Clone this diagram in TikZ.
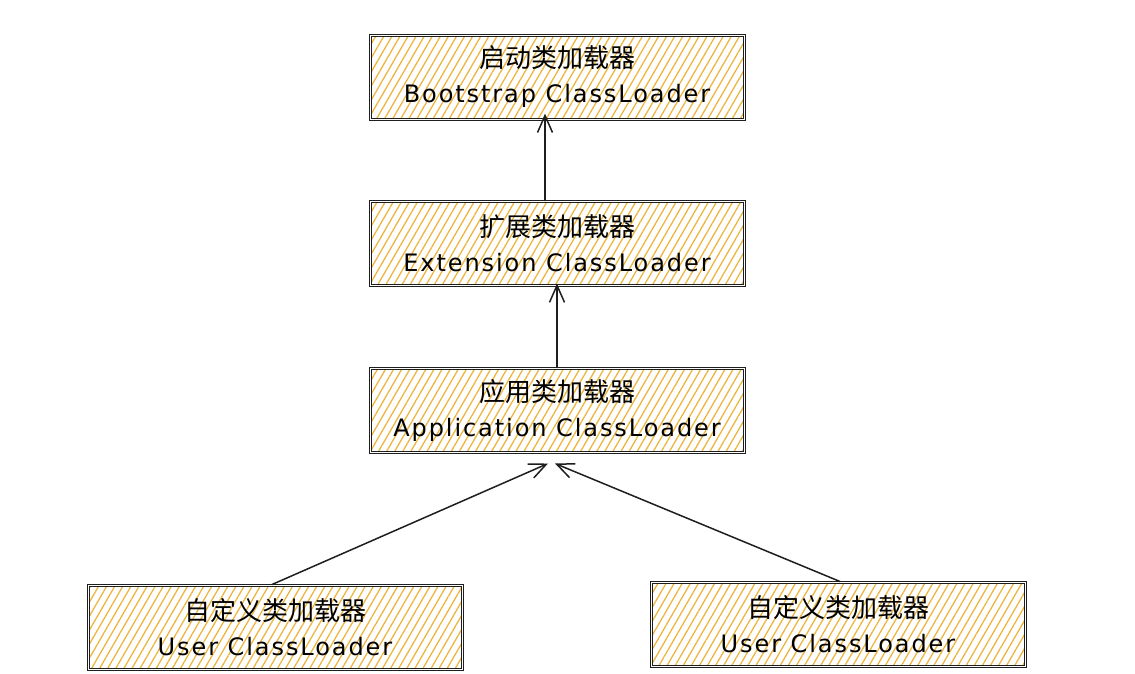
\documentclass[tikz,border=0pt]{standalone}
\usepackage{fontspec}
\setmainfont{DejaVu Sans}
\newfontfamily\cjkfont{Noto Sans CJK SC}
\newfontfamily\handfont[LetterSpace=8]{DejaVu Sans}
\usetikzlibrary{patterns.meta,arrows.meta}
\definecolor{hatch}{RGB}{236,182,62}
\definecolor{ink}{RGB}{30,30,30}
\tikzset{
	loader/.style={draw=ink, line width=1pt, double=white, double distance=1pt,
		pattern={Lines[angle=60,distance=7pt,line width=1.3pt]}, pattern color=hatch,
		minimum width=374pt, minimum height=84pt, inner sep=0pt, align=center,
		font=\fontsize{24}{35}\selectfont},
	parent/.style={draw=ink, line width=1.5pt, line cap=round,
		-{Straight Barb[length=17pt,width=15pt,line width=1.5pt]}},
}
\newcommand{\loaderlabel}[2]{{\cjkfont\fontsize{26}{35}\selectfont #1}\\{\handfont #2}}

\begin{document}
\begin{tikzpicture}[x=1pt,y=-1pt]
		\useasboundingbox (0,0) rectangle (1135,673);
		% loader boxes
		\node[loader] (boot) at (557,77) {\loaderlabel{启动类加载器}{Bootstrap ClassLoader}};
		\node[loader] (ext) at (557,243) {\loaderlabel{扩展类加载器}{Extension ClassLoader}};
		\node[loader] (app) at (557,410) {\loaderlabel{应用类加载器}{Application ClassLoader}};
		\node[loader] (userA) at (275,627) {\loaderlabel{自定义类加载器}{User ClassLoader}};
		\node[loader] (userB) at (838,624) {\loaderlabel{自定义类加载器}{User ClassLoader}};
		%
		% delegation to the parent
		\draw[parent] ([xshift=-12pt]ext.north) -- ([xshift=-12pt,yshift=6pt]boot.south);
		\draw[parent] (app.north) -- ([yshift=2pt]ext.south);
		\draw[parent] ([xshift=-3pt]userA.north) -- ([xshift=-9pt,yshift=-11pt]app.south);
		\draw[parent] ([xshift=2pt]userB.north) -- ([xshift=-2pt,yshift=-11pt]app.south);
	\end{tikzpicture}
\end{document}
